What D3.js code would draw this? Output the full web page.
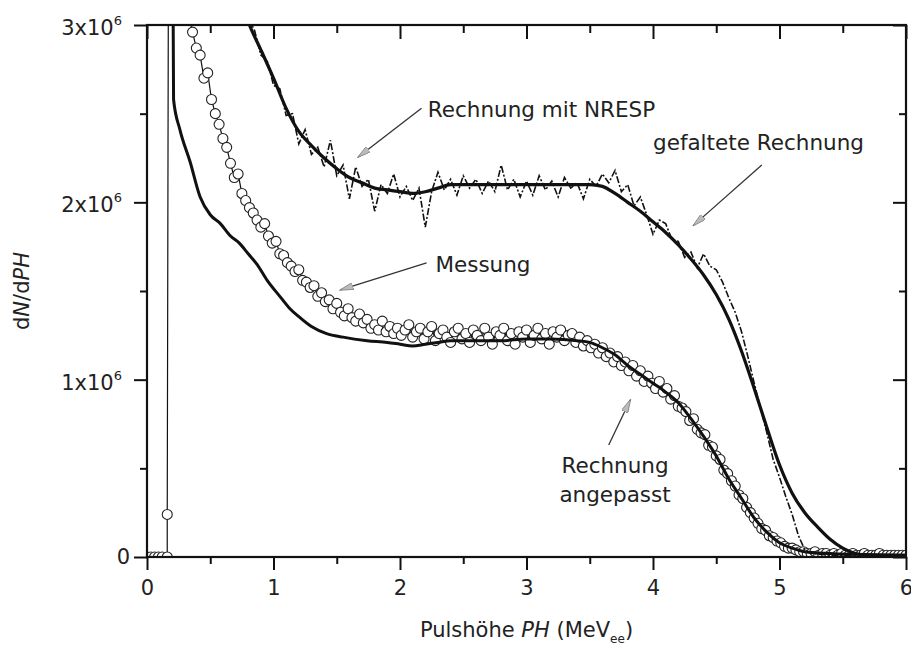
<!DOCTYPE html>
<html>
<head>
<meta charset="utf-8">
<script src="https://cdn.jsdelivr.net/npm/d3@7"></script>
<style>
  body { margin: 0; background: #fff; }
  svg { font-family: "DejaVu Sans", Verdana, sans-serif; }
</style>
</head>
<body>
<div id="chart"></div>
<script>
// ---- data (y in units of 1e6) ----
// Messung (circles)
var messX = [0.00,0.03,0.06,0.09,0.12,0.16,0.16,0.17,0.30,0.33,
  0.36,0.39,0.42,0.45,0.48,0.51,0.54,0.57,0.60,0.63,0.66,0.69,0.72,0.75,0.78,0.81,0.84,0.87,0.90,0.93,0.96,0.99,
  1.02,1.05,1.08,1.11,1.14,1.17,1.20,1.23,1.26,1.29,1.32,1.35,1.38,1.41,1.44,1.47,1.50,1.53,1.56,1.59,1.62,1.65,1.68,1.71,1.74,1.77,1.80,1.83,1.86,1.89,1.92,1.95,1.98,
  2.01,2.04,2.07,2.10,2.13,2.16,2.19,2.22,2.25,2.28,2.31,2.34,2.37,2.40,2.43,2.46,2.49,2.52,2.55,2.58,2.61,2.64,2.67,2.70,2.73,2.76,2.79,2.82,2.85,2.88,2.91,2.94,2.97,
  3.00,3.03,3.06,3.09,3.12,3.15,3.18,3.21,3.24,3.27,3.30,3.33,3.36,3.39,3.42,3.45,3.48,3.51,3.54,3.57,3.60,3.63,3.66,3.69,3.72,3.75,3.78,3.81,3.84,3.87,3.90,3.93,3.96,3.99,
  4.02,4.05,4.08,4.11,4.14,4.17,4.20,4.23,4.26,4.29,4.32,4.35,4.38,4.41,4.44,4.47,4.50,4.53,4.56,4.59,4.62,4.65,4.68,4.71,4.74,4.77,4.80,4.83,4.86,4.89,4.92,4.95,4.98,
  5.01,5.04,5.07,5.10,5.13,5.16,5.19,5.22,5.25,5.28,5.31,5.34,5.37,5.40,5.43,5.46,5.49,5.52,5.55,5.58,5.61,5.64,5.67,5.70,5.73,5.76,5.79,5.82,5.85,5.88,5.91,5.94,5.97,6.00];
var messY = [0,0,0,0,0,0,0.24,3.6,3.3,3.05,
  2.96,2.87,2.83,2.70,2.73,2.58,2.50,2.44,2.36,2.31,2.22,2.14,2.16,2.05,2.01,1.97,1.94,1.90,1.86,1.88,1.81,1.77,
  1.78,1.71,1.70,1.66,1.64,1.61,1.62,1.56,1.55,1.52,1.53,1.47,1.49,1.44,1.45,1.40,1.43,1.38,1.36,1.40,1.35,1.33,1.37,1.32,1.34,1.29,1.31,1.28,1.33,1.27,1.30,1.26,1.29,
  1.25,1.28,1.31,1.24,1.27,1.29,1.23,1.27,1.30,1.22,1.26,1.28,1.24,1.21,1.27,1.29,1.23,1.26,1.21,1.28,1.25,1.22,1.29,1.24,1.20,1.27,1.25,1.29,1.22,1.26,1.20,1.27,1.24,
  1.28,1.21,1.25,1.29,1.23,1.26,1.20,1.27,1.24,1.28,1.22,1.25,1.26,1.21,1.24,1.19,1.22,1.18,1.20,1.15,1.18,1.13,1.15,1.10,1.13,1.08,1.10,1.05,1.08,1.02,1.05,0.99,1.02,0.98,
  0.95,0.99,0.93,0.95,0.89,0.91,0.85,0.84,0.82,0.77,0.78,0.72,0.70,0.69,0.63,0.62,0.57,0.55,0.49,0.47,0.43,0.40,0.35,0.33,0.28,0.25,0.22,0.19,0.16,0.15,0.12,0.11,0.09,
  0.08,0.06,0.05,0.05,0.04,0.03,0.03,0.02,0.02,0.03,0.01,0.02,0.02,0.01,0.02,0.01,0.02,0.01,0.01,0.02,0.01,0.01,0.02,0.01,0.01,0.01,0.02,0.01,0.01,0.01,0.01,0.01,0.01,0.01];

// Rechnung angepasst (lower solid curve)
var fitX = [0.205,0.21,0.26,0.34,0.42,0.50,0.58,0.66,0.73,0.80,0.87,0.95,1.05,1.13,1.21,1.30,1.42,1.55,1.74,1.90,2.00,2.10,2.20,2.30,2.40,2.60,2.80,3.00,3.20,3.40,3.50,3.60,3.70,3.80,3.90,4.00,4.10,4.20,4.30,4.40,4.50,4.60,4.70,4.80,4.90,5.00,5.10,5.20,5.40,5.60,6.00];
var fitY = [3.3,2.58,2.41,2.23,2.03,1.93,1.88,1.81,1.77,1.71,1.65,1.56,1.47,1.40,1.35,1.30,1.26,1.24,1.22,1.21,1.20,1.19,1.20,1.21,1.22,1.22,1.22,1.23,1.23,1.22,1.21,1.18,1.14,1.08,1.03,0.98,0.93,0.87,0.78,0.68,0.57,0.44,0.33,0.22,0.14,0.08,0.05,0.03,0.02,0.015,0.01];

// gefaltete Rechnung (upper smooth curve)
var foldX = [0.75,0.81,0.90,1.00,1.10,1.20,1.30,1.40,1.50,1.60,1.70,1.80,1.90,2.00,2.10,2.20,2.30,2.40,2.50,3.00,3.50,3.60,3.70,3.80,3.90,4.00,4.10,4.20,4.30,4.40,4.50,4.60,4.70,4.80,4.90,5.00,5.10,5.20,5.30,5.40,5.50,5.60,5.70,6.00];
var foldY = [3.12,3.00,2.86,2.70,2.53,2.40,2.32,2.25,2.19,2.14,2.11,2.08,2.07,2.06,2.05,2.06,2.08,2.10,2.10,2.10,2.10,2.09,2.05,2.00,1.95,1.89,1.83,1.76,1.68,1.59,1.48,1.34,1.16,0.95,0.73,0.52,0.36,0.25,0.17,0.10,0.05,0.02,0.01,0.01];

// Rechnung mit NRESP (noisy dash-dot)
var nrespX = [0.80,0.85,0.90,0.95,1.00,1.05,1.10,1.15,1.20,1.25,1.30,1.35,1.40,1.45,1.50,1.55,1.60,1.65,1.70,1.75,1.80,1.85,1.90,1.95,
  2.00,2.05,2.10,2.15,2.20,2.25,2.30,2.35,2.40,2.45,2.50,2.55,2.60,2.65,2.70,2.75,2.80,2.85,2.90,2.95,
  3.00,3.05,3.10,3.15,3.20,3.25,3.30,3.35,3.40,3.45,3.50,3.55,3.60,3.65,3.70,3.75,3.80,3.85,3.90,3.95,
  4.00,4.05,4.10,4.15,4.20,4.25,4.30,4.35,4.40,4.45,4.50,4.55,4.60,4.65,4.70,4.75,4.80,4.85,4.90,4.95,
  5.00,5.05,5.10,5.15,5.20,5.25,5.40,5.60,5.80,6.00];
var nrespY = [3.04,2.97,2.83,2.80,2.66,2.64,2.49,2.50,2.33,2.41,2.27,2.31,2.20,2.35,2.15,2.21,2.02,2.20,2.09,2.13,1.95,2.10,2.05,2.16,
  2.03,2.09,2.01,2.08,1.86,2.06,2.17,2.07,2.13,2.04,2.15,2.08,2.13,2.05,2.12,2.06,2.21,2.07,2.13,2.03,
  2.12,2.04,2.15,2.07,2.12,2.03,2.14,2.08,2.11,2.02,2.13,2.09,2.16,2.11,2.18,2.06,2.10,1.98,2.03,1.93,
  1.82,1.90,1.88,1.79,1.78,1.69,1.72,1.63,1.71,1.64,1.62,1.55,1.46,1.38,1.27,1.13,0.98,0.84,0.70,0.55,
  0.45,0.34,0.24,0.12,0.04,0.02,0.01,0.01,0.01,0.01];

var xTicks = [0,1,2,3,4,5,6];
var xMinor = [0.5,1.5,2.5,3.5,4.5,5.5];
var yTicks = [0,1,2,3];
var yMinor = [0.5,1.5,2.5];

// annotations: text lines at (x, baseline y) in data units; arrows [x1,y1,x2,y2]
var labels = [
  {lines: ["Rechnung mit NRESP"], x: 2.22, y: 2.48, anchor: "start"},
  {lines: ["gefaltete Rechnung"], x: 4.00, y: 2.295, anchor: "start"},
  {lines: ["Messung"], x: 2.28, y: 1.607, anchor: "start"},
  {lines: ["Rechnung", "angepasst"], x: 3.70, y: 0.474, anchor: "middle"}
];
var arrows = [
  [2.17, 2.53, 1.67, 2.256],
  [4.86, 2.21, 4.32, 1.87],
  [2.21, 1.658, 1.53, 1.506],
  [3.65, 0.632, 3.82, 0.885]
];

// ---- layout ----
var W = 911, H = 646;
var pLeft = 147, pRight = 906, pTop = 25, pBottom = 557;

var svg = d3.select("#chart").append("svg").attr("width", W).attr("height", H);

var x = d3.scaleLinear().domain([0, 6]).range([pLeft, pRight]);
var y = d3.scaleLinear().domain([0, 3]).range([pBottom, pTop]);

var defs = svg.append("defs");
defs.append("clipPath").attr("id", "clip")
  .append("rect").attr("x", pLeft).attr("y", pTop).attr("width", pRight - pLeft).attr("height", pBottom - pTop);

var plot = svg.append("g").attr("clip-path", "url(#clip)");

var line = d3.line().x(function(d) { return x(d[0]); }).y(function(d) { return y(d[1]); });
var lineSmooth = d3.line().curve(d3.curveMonotoneX).x(function(d) { return x(d[0]); }).y(function(d) { return y(d[1]); });

var mess = d3.zip(messX, messY);
var fit = d3.zip(fitX, fitY);
var fold = d3.zip(foldX, foldY);
var nresp = d3.zip(nrespX, nrespY);

// thin line joining the circles
plot.append("path").datum(mess).attr("d", line)
  .attr("fill", "none").attr("stroke", "#111").attr("stroke-width", 1.2);

plot.selectAll("circle.m").data(mess)
  .enter().append("circle").attr("class", "m")
  .attr("cx", function(d) { return x(d[0]); })
  .attr("cy", function(d) { return y(d[1]); })
  .attr("r", 5)
  .attr("fill", "#fff").attr("stroke", "#222").attr("stroke-width", 1.1);

plot.append("path").datum(fit).attr("d", lineSmooth)
  .attr("fill", "none").attr("stroke", "#111").attr("stroke-width", 3);

plot.append("path").datum(nresp).attr("d", line)
  .attr("fill", "none").attr("stroke", "#111").attr("stroke-width", 1.6)
  .attr("stroke-dasharray", "7,2,2,2");

plot.append("path").datum(fold).attr("d", lineSmooth)
  .attr("fill", "none").attr("stroke", "#111").attr("stroke-width", 3.2);

// ---- axes ----
function styleAxis(g) {
  g.select(".domain").remove();
  g.selectAll("line").attr("stroke", "#111").attr("stroke-width", 2);
  g.selectAll("text").attr("font-size", 21).attr("fill", "#222").attr("font-family", "DejaVu Sans, Verdana, sans-serif");
}

svg.append("g").attr("transform", "translate(0," + pBottom + ")")
  .call(d3.axisBottom(x).tickValues(xTicks).tickSize(13).tickPadding(10).tickFormat(d3.format("d")))
  .call(styleAxis);
svg.append("g").attr("transform", "translate(0," + pBottom + ")")
  .call(d3.axisBottom(x).tickValues(xMinor).tickSize(7).tickFormat(""))
  .call(styleAxis);
svg.append("g").attr("transform", "translate(0," + pTop + ")")
  .call(d3.axisTop(x).tickValues(xTicks).tickSize(-14).tickFormat(""))
  .call(styleAxis);
svg.append("g").attr("transform", "translate(0," + pTop + ")")
  .call(d3.axisTop(x).tickValues(xMinor).tickSize(-8).tickFormat(""))
  .call(styleAxis);
svg.append("g").attr("transform", "translate(" + pLeft + ",0)")
  .call(d3.axisLeft(y).tickValues(yTicks).tickSize(13).tickFormat(""))
  .call(styleAxis);
svg.append("g").attr("transform", "translate(" + pLeft + ",0)")
  .call(d3.axisLeft(y).tickValues(yMinor).tickSize(7).tickFormat(""))
  .call(styleAxis);
svg.append("g").attr("transform", "translate(" + pRight + ",0)")
  .call(d3.axisRight(y).tickValues(yTicks).tickSize(-13).tickFormat(""))
  .call(styleAxis);
svg.append("g").attr("transform", "translate(" + pRight + ",0)")
  .call(d3.axisRight(y).tickValues(yMinor).tickSize(-7).tickFormat(""))
  .call(styleAxis);

// frame
svg.append("rect").attr("x", pLeft).attr("y", pTop).attr("width", pRight - pLeft).attr("height", pBottom - pTop)
  .attr("fill", "none").attr("stroke", "#111").attr("stroke-width", 2.2);

// y tick labels with superscript
yTicks.forEach(function(v) {
  var t = svg.append("text").attr("x", 122).attr("y", y(v) + 10)
    .attr("text-anchor", "end").attr("font-size", 21).attr("fill", "#222");
  if (v === 0) {
    t.attr("x", 130).attr("y", y(v) + 7).text("0");
  } else {
    t.append("tspan").text(v + "x10");
    t.append("tspan").attr("font-size", 13).attr("dy", -10).text("6");
  }
});

// axis titles
var xt = svg.append("text").attr("x", (pLeft + pRight) / 2).attr("y", 637)
  .attr("text-anchor", "middle").attr("font-size", 21).attr("fill", "#222");
xt.append("tspan").text("Pulshöhe ");
xt.append("tspan").attr("font-style", "italic").text("PH");
xt.append("tspan").text(" (MeV");
xt.append("tspan").attr("font-size", 12).attr("dy", 6).text("ee");
xt.append("tspan").attr("dy", -6).text(")");

var yt = svg.append("text").attr("transform", "translate(29," + ((pTop + pBottom) / 2) + ") rotate(-90)")
  .attr("text-anchor", "middle").attr("font-size", 21).attr("fill", "#222");
yt.append("tspan").text("d");
yt.append("tspan").attr("font-style", "italic").text("N");
yt.append("tspan").text("/d");
yt.append("tspan").attr("font-style", "italic").text("PH");

// annotations
defs.append("marker").attr("id", "head")
  .attr("viewBox", "0 0 12 6").attr("refX", 11).attr("refY", 3)
  .attr("markerWidth", 14).attr("markerHeight", 7).attr("markerUnits", "userSpaceOnUse")
  .attr("orient", "auto")
  .append("path").attr("d", "M0,0 L12,3 L0,6 Z").attr("fill", "#bbb").attr("stroke", "#777").attr("stroke-width", 0.6);

svg.selectAll("line.arrow").data(arrows).enter().append("line").attr("class", "arrow")
  .attr("x1", function(d) { return x(d[0]); }).attr("y1", function(d) { return y(d[1]); })
  .attr("x2", function(d) { return x(d[2]); }).attr("y2", function(d) { return y(d[3]); })
  .attr("stroke", "#333").attr("stroke-width", 1.3).attr("marker-end", "url(#head)");

labels.forEach(function(l) {
  var t = svg.append("text").attr("x", x(l.x)).attr("y", y(l.y))
    .attr("text-anchor", l.anchor).attr("font-size", 21.5).attr("fill", "#222");
  l.lines.forEach(function(s, i) {
    t.append("tspan").attr("x", x(l.x)).attr("dy", i === 0 ? 0 : 29).text(s);
  });
});
</script>
</body>
</html>
